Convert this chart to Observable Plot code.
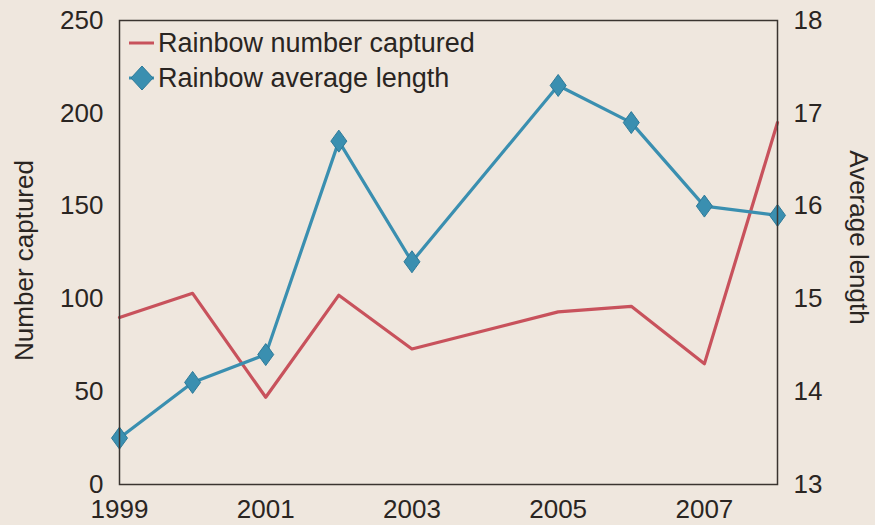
<!DOCTYPE html>
<html>
<head>
<meta charset="utf-8">
<script src="https://cdn.jsdelivr.net/npm/d3@7"></script>
<script src="https://cdn.jsdelivr.net/npm/@observablehq/plot@0.6"></script>
<style>
  html, body { margin: 0; padding: 0; background: #efe7de; }
</style>
</head>
<body>
<div id="chart"></div>
<script>
// Data
const years = [1999, 2000, 2001, 2002, 2003, 2005, 2006, 2007, 2008];
const numberCaptured = [90, 103, 47, 102, 73, 93, 96, 65, 195];
const averageLength = [13.5, 14.1, 14.4, 16.7, 15.4, 17.3, 16.9, 16.0, 15.9];
const xTicks = [1999, 2001, 2003, 2005, 2007];
const capturedTicks = [0, 50, 100, 150, 200, 250];
const lengthTicks = [13, 14, 15, 16, 17, 18];
const seriesNames = ["Rainbow number captured", "Rainbow average length"];
const axisTitles = ["Number captured", "Average length"];

const leftDomain = [0, 250];
const rightDomain = [13, 18];
const toLeft = v => leftDomain[0] + (v - rightDomain[0]) / (rightDomain[1] - rightDomain[0]) * (leftDomain[1] - leftDomain[0]);
const fromLeft = v => rightDomain[0] + (v - leftDomain[0]) / (leftDomain[1] - leftDomain[0]) * (rightDomain[1] - rightDomain[0]);

const capData = years.map((y, i) => ({year: y, value: numberCaptured[i]}));
const lenData = years.map((y, i) => ({year: y, value: averageLength[i]}));

const RED = "#c8525c";
const BLUE = "#3a8fb0";
const BLUE_EDGE = "#2d7a99";
const TEXT = "#2a2522";
const FONT = "'Liberation Sans', Arial, sans-serif";

function diamondSymbol(hw, hh) {
  return {
    draw(context) {
      context.moveTo(0, -hh);
      context.lineTo(hw, 0);
      context.lineTo(0, hh);
      context.lineTo(-hw, 0);
      context.closePath();
    }
  };
}

const svg = Plot.plot({
  width: 875,
  height: 525,
  marginLeft: 119,
  marginRight: 98,
  marginTop: 20,
  marginBottom: 41,
  style: {background: "#efe7de", fontFamily: FONT, fontSize: "26px", color: TEXT},
  x: {domain: [1999, 2008]},
  y: {domain: leftDomain},
  marks: [
    Plot.axisX(xTicks, {tickSize: 0, tickPadding: 15, tickFormat: d => String(d), label: null, fill: TEXT}),
    Plot.axisY(capturedTicks, {anchor: "left", tickSize: 0, tickPadding: 16, label: null, fill: TEXT}),
    Plot.axisY(lengthTicks.map(toLeft), {anchor: "right", tickSize: 0, tickPadding: 16, tickFormat: v => String(Math.round(fromLeft(v))), label: null, fill: TEXT}),
    Plot.text([axisTitles[0]], {frameAnchor: "left", textAnchor: "middle", dx: -95, dy: 8, rotate: -90, fontSize: 26, fill: TEXT}),
    Plot.text([axisTitles[1]], {frameAnchor: "right", textAnchor: "middle", dx: 81, dy: -15, rotate: 90, fontSize: 26, fill: TEXT}),
    Plot.line(capData, {x: "year", y: "value", stroke: RED, strokeWidth: 3.2}),
    Plot.line(lenData, {x: "year", y: d => toLeft(d.value), stroke: BLUE, strokeWidth: 3.2}),
    Plot.dot(lenData, {x: "year", y: d => toLeft(d.value), symbol: diamondSymbol(8, 11), r: 8, fill: BLUE, stroke: BLUE_EDGE, strokeWidth: 1}),
    Plot.frame({stroke: "#3a3430", strokeWidth: 1.5})
  ]
});

// Legend inside the plot area (top-left)
const s = d3.select(svg);
const leg = s.append("g").attr("font-family", FONT).attr("font-size", 27).attr("fill", TEXT);
const rows = [{name: seriesNames[0], color: RED, marker: false, cy: 43},
              {name: seriesNames[1], color: BLUE, marker: true, cy: 78}];
rows.forEach(r => {
  leg.append("line").attr("x1", 129).attr("x2", 154).attr("y1", r.cy).attr("y2", r.cy)
    .attr("stroke", r.color).attr("stroke-width", 3);
  if (r.marker) {
    leg.append("path").attr("d", "M0,-12L11,0L0,12L-11,0Z")
      .attr("transform", `translate(142,${r.cy})`).attr("fill", r.color).attr("stroke", BLUE_EDGE);
  }
  leg.append("text").attr("x", 158).attr("y", r.cy).attr("dy", "0.35em")
    .attr("text-anchor", "start").text(r.name);
});

document.getElementById("chart").appendChild(svg);
</script>
</body>
</html>
